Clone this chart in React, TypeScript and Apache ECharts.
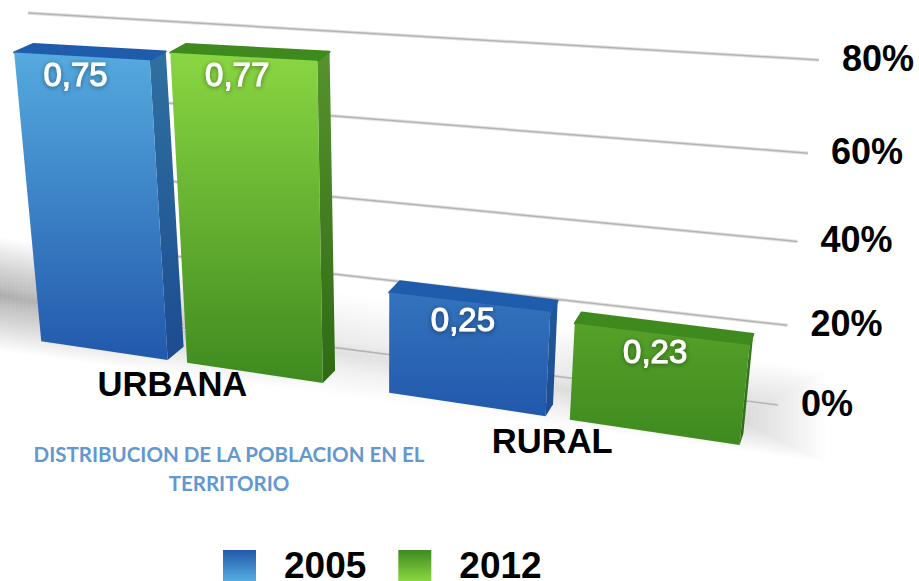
import React, { useEffect, useRef } from "react";
import * as echarts from "echarts";

const categories = ["URBANA", "RURAL"];
const seriesNames = ["2005", "2012"];
const values2005 = [0.75, 0.25];
const values2012 = [0.77, 0.23];
const valueLabels2005 = ["0,75", "0,25"];
const valueLabels2012 = ["0,77", "0,23"];
const yTicks = [0, 0.2, 0.4, 0.6, 0.8];
const tickLabels = ["0%", "20%", "40%", "60%", "80%"];
const titleText = "DISTRIBUCION DE LA POBLACION EN EL\nTERRITORIO";

type Pt = [number, number];

// Projective maps from the (hidden) cartesian grid's unit square to the tilted page plane.
function makeHomography(p00: Pt, p10: Pt, p11: Pt, p01: Pt) {
  const [x0, y0] = p00, [x1, y1] = p10, [x2, y2] = p11, [x3, y3] = p01;
  const dx1 = x1 - x2, dx2 = x3 - x2, sx = x0 - x1 + x2 - x3;
  const dy1 = y1 - y2, dy2 = y3 - y2, sy = y0 - y1 + y2 - y3;
  const den = dx1 * dy2 - dx2 * dy1;
  const g = (sx * dy2 - dx2 * sy) / den;
  const h = (dx1 * sy - sx * dy1) / den;
  const a = x1 - x0 + g * x1, b = x3 - x0 + h * x3;
  const d = y1 - y0 + g * y1, e = y3 - y0 + h * y3;
  return (s: number, t: number): Pt => {
    const w = g * s + h * t + 1;
    return [(a * s + b * t + x0) / w, (d * s + e * t + y0) / w];
  };
}

const frontPlane = makeHomography([13.5, 337], [780, 451], [822, 73], [-17.6, 30]);
const wallPlane = makeHomography([60, 312], [778, 405], [819, 60], [28, 13]);

// depth of the bars: offset of the back face, blended over the plane
function backOffset(s: number, t: number): Pt {
  const dx = (1 - s) * 20 + s * 3;
  const dy = -((1 - t) * ((1 - s) * 14 + s * 11) + t * ((1 - s) * 8 + s * 10));
  return [dx, dy];
}

const palettes = [
  { top: [0x56, 0xac, 0xe0], base: [0x22, 0x58, 0xac], roof: "#1f5cab", sideTop: [0x30, 0x70, 0xa0], sideBase: [0x1c, 0x4c, 0x92] },
  { top: [0x8a, 0xd6, 0x42], base: [0x3f, 0x8a, 0x1f], roof: "#3f8a1f", sideTop: [0x55, 0x92, 0x2c], sideBase: [0x2f, 0x6a, 0x16] },
];
const mix = (a: number[], b: number[], k: number) =>
  `rgb(${a.map((v, i) => Math.round(v + (b[i] - v) * k)).join(",")})`;
const vGrad = (y1: number, y2: number, c1: string, c2: string) => ({
  type: "linear", x: 0, y: y1, x2: 0, y2, global: true,
  colorStops: [{ offset: 0, color: c1 }, { offset: 1, color: c2 }],
});

const font = "'Liberation Sans', Arial, sans-serif";
const BAR_UNITS = 2.63; // band width in bar widths

function renderBar(seriesIdx: number, labels: string[]) {
  return (params: any, api: any) => {
    const cs = params.coordSys;
    const cat = api.value(0), val = api.value(1);
    const [cx, gy] = api.coord([cat, val]);
    const [, g0] = api.coord([cat, 0]);
    const band = api.size([1, 0])[0];
    const bw = band / BAR_UNITS;
    const left = cx + (seriesIdx === 0 ? -1.08 : 0.09) * bw;
    const width = (seriesIdx === 0 ? 1.02 : 1) * bw;
    const S = (x: number) => (x - cs.x) / cs.width;
    const T = (y: number) => (cs.y + cs.height - y) / cs.height;
    const s1 = S(left), s2 = S(left + width), tb = T(g0), tt = T(gy);
    const f = (s: number, t: number) => frontPlane(s, t);
    const b = (s: number, t: number): Pt => {
      const p = frontPlane(s, t), o = backOffset(s, t);
      return [p[0] + o[0], p[1] + o[1]];
    };
    const pal = palettes[seriesIdx];
    const k = val / 0.77;
    const fTL = f(s1, tt), fTR = f(s2, tt), fBL = f(s1, tb), fBR = f(s2, tb);
    const bTL = b(s1, tt), bTR = b(s2, tt), bBR = b(s2, tb);
    const mid = f((s1 + s2) / 2, tt);
    return {
      type: "group",
      children: [
        {
          type: "polygon", shape: { points: [fTR, bTR, bBR, fBR] },
          style: { fill: vGrad(fTR[1], fBR[1], mix(pal.sideBase, pal.sideTop, k), mix(pal.sideBase, pal.sideTop, 0)) },
        },
        {
          type: "polygon", shape: { points: [fTL, bTL, bTR, fTR] },
          style: { fill: pal.roof, stroke: pal.roof, lineWidth: 2, lineJoin: "round" },
        },
        {
          type: "polygon", shape: { points: [fTL, fTR, fBR, fBL] },
          style: { fill: vGrad(Math.min(fTL[1], fTR[1]), Math.max(fBL[1], fBR[1]), mix(pal.base, pal.top, k), mix(pal.base, pal.top, 0)) },
        },
        {
          type: "text", x: mid[0] - 5, y: mid[1] + 18,
          style: {
            text: labels[params.dataIndex], fill: "#ffffff", fontFamily: font, fontSize: 33,
            align: "center", verticalAlign: "middle", stroke: "#ffffff", lineWidth: 1,
            textShadowBlur: 5, textShadowColor: "rgba(0,0,0,0.45)", textShadowOffsetY: 1,
          },
        },
      ],
    };
  };
}

function renderGridLine(params: any, api: any) {
  const cs = params.coordSys;
  const [, gy] = api.coord([0, api.value(1)]);
  const t = (cs.y + cs.height - gy) / cs.height;
  const a = wallPlane(0, t), b = wallPlane(1, t);
  const mk = (w: number, c: string) => ({
    type: "line", shape: { x1: a[0], y1: a[1], x2: b[0], y2: b[1] }, style: { stroke: c, lineWidth: w },
  });
  return {
    type: "group",
    children: [
      mk(3.5, "#e2e2e2"), mk(1.5, "#b4b4b4"),
      {
        type: "text", x: b[0] + 23, y: b[1] - 2,
        style: {
          text: tickLabels[params.dataIndex], fill: "#000000", fontFamily: font, fontSize: 36,
          fontWeight: "bold", align: "left", verticalAlign: "middle",
        },
      },
    ],
  };
}

function renderCategory(params: any, api: any) {
  const cs = params.coordSys;
  const [cx, g0] = api.coord([api.value(0), 0]);
  const p = frontPlane((cx - cs.x) / cs.width, (cs.y + cs.height - g0) / cs.height);
  return {
    type: "text", x: p[0] - 3, y: p[1] + 23,
    style: {
      text: categories[params.dataIndex], fill: "#000000", fontFamily: font, fontSize: 34.6,
      fontWeight: "bold", align: "center", verticalAlign: "middle",
    },
  };
}

function renderShadow() {
  const layers: any[] = [];
  const n = 30;
  for (let i = 0; i < n; i++) {
    const d = i * 2.2;
    layers.push({
      type: "polygon",
      shape: { points: [[-60, 228 + d], [825 - d * 2, 372 + d], [825 - d * 2, 462 - d], [-60, 342 - d]] },
      style: {
        fill: {
          type: "linear", x: -60, y: 0, x2: 810, y2: 0, global: true,
          colorStops: [
            { offset: 0, color: "rgba(0,0,0,0.015)" },
            { offset: 0.5, color: "rgba(0,0,0,0.004)" },
            { offset: 1, color: "rgba(0,0,0,0.009)" },
          ],
        },
      },
    });
  }
  return { type: "group", children: layers };
}

const legendGrad = (p: any) => ({
  type: "linear", x: 0, y: 0, x2: 0, y2: 1,
  colorStops: [{ offset: 0, color: mix(p.base, p.top, 0) }, { offset: 1, color: mix(p.base, p.top, 1) }],
});

export default function App() {
  const ref = useRef<HTMLDivElement>(null);
  useEffect(() => {
    const chart = echarts.init(ref.current!, undefined, { renderer: "svg" });
    chart.setOption({
      animation: false,
      backgroundColor: "#ffffff",
      title: {
        text: titleText, left: 224, top: 434, textAlign: "center",
        textStyle: { fontFamily: "Lato, sans-serif", fontWeight: "bold", fontSize: 20.5, color: "#6397cf", lineHeight: 29 },
      },
      legend: {
        left: 223, top: 547, padding: 0, itemWidth: 33, itemHeight: 31, itemGap: 32, selectedMode: false,
        data: seriesNames.map((name, i) => ({ name, icon: "rect", itemStyle: { color: legendGrad(palettes[i]) } })),
        textStyle: { fontFamily: font, fontWeight: "bold", fontSize: 37, color: "#000", padding: [0, 0, 0, 23] },
      },
      grid: { left: 0, top: 0, width: 919, height: 581, containLabel: false },
      xAxis: { type: "category", data: categories, show: false },
      yAxis: { type: "value", min: 0, max: 0.8, interval: 0.2, show: false },
      series: [
        { type: "custom", name: "shadow", silent: true, data: [[0, 0]], renderItem: renderShadow },
        { type: "custom", name: "grid", silent: true, data: yTicks.map((v) => [0, v]), renderItem: renderGridLine },
        { type: "custom", name: seriesNames[0], data: values2005.map((v, i) => [i, v]), renderItem: renderBar(0, valueLabels2005), itemStyle: { color: "#2258ac" } },
        { type: "custom", name: seriesNames[1], data: values2012.map((v, i) => [i, v]), renderItem: renderBar(1, valueLabels2012), itemStyle: { color: "#3f8a1f" } },
        { type: "custom", name: "categories", silent: true, data: categories.map((_, i) => [i, 0]), renderItem: renderCategory },
      ],
    });
    return () => chart.dispose();
  }, []);
  return <div ref={ref} style={{ position: "fixed", left: 0, top: 0, width: 919, height: 581 }} />;
}
